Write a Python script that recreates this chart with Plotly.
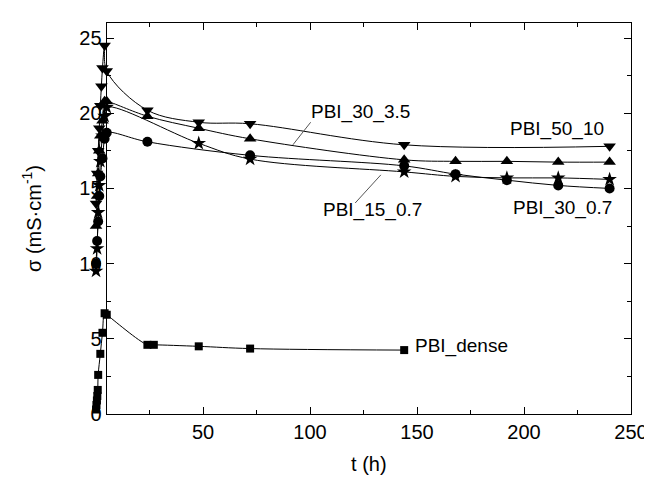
import plotly.graph_objects as go

# ---------------- data ----------------
t_dense = [0, 0.2, 0.4, 0.6, 0.8, 1, 2, 3, 4, 5, 24, 27, 48, 72, 144]
s_dense = [0.3, 0.6, 0.9, 1.2, 1.6, 2.6, 4.0, 5.4, 6.7, 6.6, 4.6, 4.6, 4.5, 4.35, 4.25]

t_50_10 = [0, 0.5, 1, 1.5, 2, 2.5, 3, 4, 5, 24, 48, 72, 144, 240]
s_50_10 = [14.0, 16.0, 17.5, 19.0, 20.5, 21.8, 23.0, 24.5, 22.8, 20.2, 19.4, 19.3, 17.9, 17.8]

t_30_35 = [0, 0.5, 1, 1.5, 2, 3, 4, 5, 24, 48, 72, 144, 168, 192, 216, 240]
s_30_35 = [12.5, 14.5, 16.0, 17.5, 18.5, 19.5, 20.8, 20.8, 19.8, 19.0, 18.3, 16.9, 16.8, 16.8, 16.75, 16.75]

t_30_07 = [0, 0.5, 1, 1.5, 2, 3, 4, 5, 24, 72, 144, 168, 192, 216, 240]
s_30_07 = [10.0, 11.5, 12.8, 14.5, 15.8, 17.0, 18.3, 18.7, 18.1, 17.2, 16.5, 15.95, 15.55, 15.2, 15.0]

t_15_07 = [0, 0.5, 1, 1.5, 2, 3, 4, 5, 48, 72, 144, 168, 192, 216, 240]
s_15_07 = [9.5, 11.0, 13.4, 15.2, 16.8, 18.5, 19.8, 20.4, 18.0, 16.95, 16.1, 15.8, 15.7, 15.7, 15.6]

x_ticks = [50, 100, 150, 200, 250]
y_ticks = [0, 5, 10, 15, 20, 25]

# ---------------- figure ----------------
FONT = "Liberation Sans, Arial, sans-serif"
W, H = 652, 477
ML, MR, MT, MB = 75, 23, 15, 71
plot_w = W - ML - MR
frame_left_px = 99 - ML          # visible frame starts here
x_lo, x_hi = 5, 250               # visible x range
dom0 = frame_left_px / plot_w
# data axis extends further left so points near t=0 are not clipped
x_data_lo = x_lo - dom0 * (x_hi - x_lo) / (1 - dom0)
y_lo, y_hi = 0, 26

fig = go.Figure()

series = [
    (t_dense, s_dense, "square", 8),
    (t_15_07, s_15_07, "star", 11),
    (t_30_07, s_30_07, "circle", 10),
    (t_30_35, s_30_35, "triangle-up", 11),
    (t_50_10, s_50_10, "triangle-down", 11),
]
for tx, sy, sym, sz in series:
    fig.add_trace(go.Scatter(
        x=tx, y=sy, mode="lines+markers",
        line=dict(color="black", width=1, shape="spline", smoothing=1.0),
        marker=dict(symbol=sym, size=sz, color="black", line=dict(width=0)),
        cliponaxis=False, showlegend=False, xaxis="x", yaxis="y",
    ))

# empty trace on the frame axes so they are drawn
fig.add_trace(go.Scatter(x=[None], y=[None], mode="markers", xaxis="x2", yaxis="y2",
                         showlegend=False, hoverinfo="skip"))

axis_common = dict(
    showline=True, linecolor="black", linewidth=1.3, mirror="allticks",
    ticks="inside", ticklen=7, tickwidth=1.2, tickcolor="black",
    showgrid=False, zeroline=False,
    tickfont=dict(family=FONT, size=20, color="black"),
)

fig.update_layout(
    width=W, height=H,
    margin=dict(l=ML, r=MR, t=MT, b=MB),
    paper_bgcolor="white", plot_bgcolor="rgba(0,0,0,0)",
    xaxis=dict(domain=[0, 1], range=[x_data_lo, x_hi], visible=False, anchor="y"),
    yaxis=dict(domain=[0, 1], range=[y_lo, y_hi], visible=False, anchor="x"),
    xaxis2=dict(domain=[dom0, 1], range=[x_lo, x_hi], anchor="y2",
                tickvals=x_ticks, ticktext=[str(v) for v in x_ticks],
                minor=dict(dtick=25, tick0=0, ticks="inside", ticklen=4, tickcolor="black"),
                title=dict(text="t (h)", font=dict(family=FONT, size=20, color="black"), standoff=14),
                **axis_common),
    yaxis2=dict(domain=[0, 1], range=[y_lo, y_hi], anchor="x2",
                tickvals=y_ticks, ticktext=[str(v) for v in y_ticks],
                minor=dict(dtick=2.5, tick0=0, ticks="inside", ticklen=4, tickcolor="black"),
                title=dict(text="σ (mS·cm<sup>-1</sup>)", font=dict(family=FONT, size=20, color="black"), standoff=32),
                **axis_common),
    font=dict(family=FONT, size=19, color="black"),
)

# text labels
labels = [
    ("PBI_50_10", 215.4, 18.95, "center"),
    ("PBI_30_0.7", 218.0, 13.7, "center"),
    ("PBI_15_0.7", 105.0, 13.56, "left"),
    ("PBI_dense", 148.0, 4.52, "left"),
    ("PBI_30_3.5", 99.5, 20.1, "left"),
]
for txt, lx, ly, anc in labels:
    fig.add_annotation(x=lx, y=ly, xref="x", yref="y", text=txt, showarrow=False,
                       xanchor=anc, yanchor="middle",
                       font=dict(family=FONT, size=19, color="black"))

# leader lines
leaders = [
    (100.3, 19.4, 92.0, 17.9),
    (121.1, 14.03, 133.1, 15.9),
]
for x0, y0, x1, y1 in leaders:
    fig.add_shape(type="line", xref="x", yref="y", x0=x0, y0=y0, x1=x1, y1=y1,
                  line=dict(color="#555555", width=1))

fig.write_html("out.html")
